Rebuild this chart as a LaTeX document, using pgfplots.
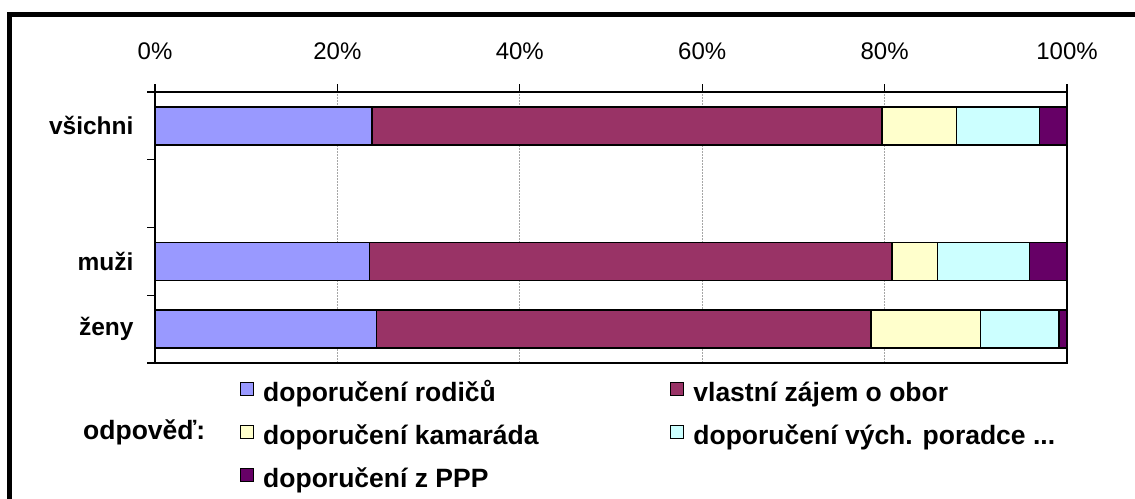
\documentclass[border=0pt]{standalone}
\usepackage{pgfplots}
\pgfplotsset{compat=1.18}
\usepackage{fontspec}
\setmainfont{Liberation Sans}
\definecolor{cA}{HTML}{9999FF}
\definecolor{cB}{HTML}{993366}
\definecolor{cC}{HTML}{FFFFCC}
\definecolor{cD}{HTML}{CCFFFF}
\definecolor{cE}{HTML}{660066}
\begin{document}
\begin{tikzpicture}[x=1pt,y=1pt]
\useasboundingbox (0,0) rectangle (1135,498);
\draw[line width=5pt] (9.5,-10) -- (9.5,483.5) -- (1145,483.5);
\begin{axis}[
  at={(155pt,135pt)}, anchor=south west,
  scale only axis, width=912pt, height=271pt,
  xbar stacked, bar width=38pt,
  xmin=0, xmax=100, ymin=-0.5, ymax=3.5,
  xtick={0,20,40,60,80,100},
  xticklabels={0\%,20\%,40\%,60\%,80\%,100\%},
  xtick pos=upper, xticklabel pos=upper,
  ytick={-0.5,0.5,1.5,2.5,3.5}, yticklabels={},
  ytick pos=left,
  extra y ticks={0,1,3},
  extra y tick labels={ženy,muži,všichni},
  extra y tick style={tick style={draw=none}, yticklabel style={xshift=-10pt}},
  tick align=outside, major tick length=8pt,
  tick style={black, line width=1.2pt},
  axis line style={line width=1.5pt},
  xmajorgrids, grid style={gray!70, dash pattern=on 2pt off 1pt, line width=0.8pt},
  xticklabel style={font=\fontsize{24}{28}\selectfont, yshift=21pt},
  yticklabel style={font=\fontsize{24.5}{28}\selectfont\bfseries},
  every axis plot/.append style={draw=black, line width=1.6pt},
  legend image code/.code={\draw[#1, draw=black, line width=1.2pt] (0pt,0pt) rectangle (13pt,13pt);},
  legend columns=2,
  legend cell align=left,
  legend style={at={(0.0932,-0.0700)}, anchor=north west, draw=none, fill=none,
    inner sep=0pt, outer sep=0pt, row sep=17.5pt,
    nodes={inner sep=0pt, text height=18pt, text depth=6pt},
    /tikz/every odd column/.append style={column sep=9pt},
    font=\fontsize{26.5}{30}\selectfont\bfseries},
]
\addplot[fill=cA] coordinates {(23.8,3) (23.5,1) (24.3,0)};
\addlegendentry{\makebox[407pt][l]{doporučení rodičů}}
\addplot[fill=cB] coordinates {(55.9,3) (57.3,1) (54.2,0)};
\addlegendentry{vlastní zájem o obor}
\addplot[fill=cC] coordinates {(8.2,3) (5.0,1) (12.0,0)};
\addlegendentry{\makebox[407pt][l]{doporučení kamaráda}}
\addplot[fill=cD] coordinates {(9.1,3) (10.1,1) (8.6,0)};
\addlegendentry{doporučení vých. poradce ...}
\addplot[fill=cE] coordinates {(3.0,3) (4.1,1) (0.9,0)};
\addlegendentry{doporučení z PPP}
\end{axis}
\node[anchor=base west, inner sep=0pt, font=\fontsize{26.5}{30}\selectfont\bfseries] at (83,58) {odpověď:};
\end{tikzpicture}
\end{document}
